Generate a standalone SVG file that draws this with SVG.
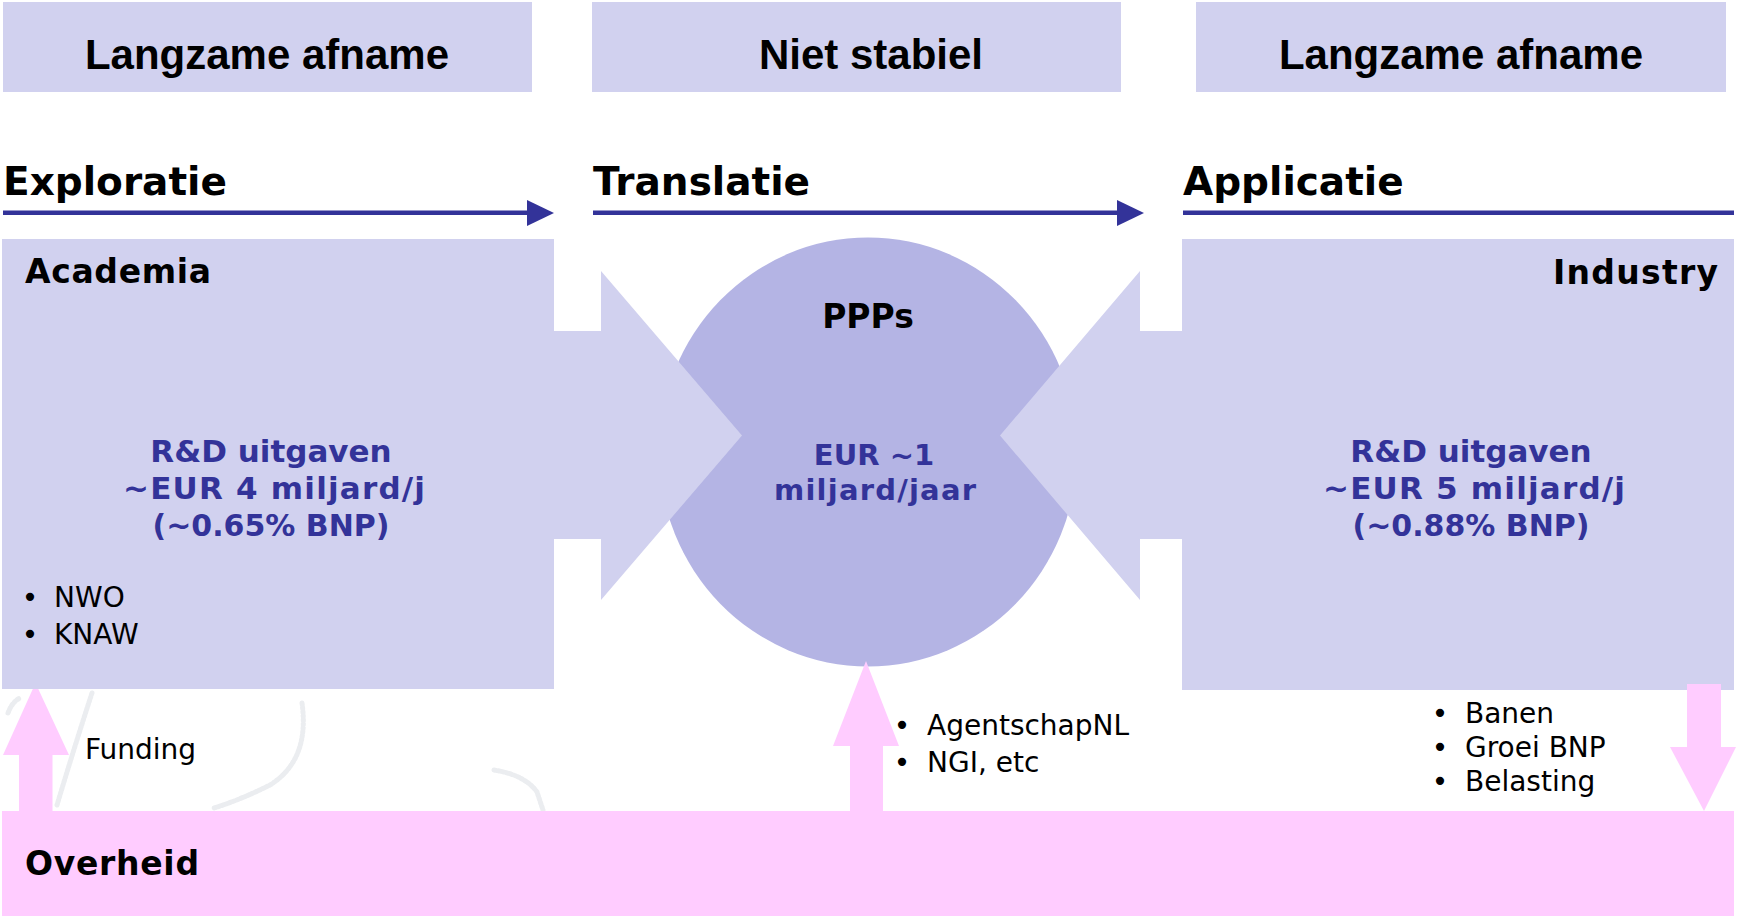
<svg xmlns="http://www.w3.org/2000/svg" width="1737" height="916" viewBox="0 0 1737 916">
<style>
.lav{fill:#D1D1EF}
.pink{fill:#FFCCFF}
.ttl{font-family:"Liberation Sans",Arial,sans-serif;font-weight:bold;font-size:42px;fill:#000;text-anchor:middle}
.sec{font-family:"DejaVu Sans",Verdana,sans-serif;font-weight:bold;font-size:39px;fill:#000}
.hd{font-family:"DejaVu Sans",Verdana,sans-serif;font-weight:bold;font-size:33px;fill:#000}
.blue{font-family:"DejaVu Sans",Verdana,sans-serif;font-weight:bold;font-size:31px;fill:#333399;text-anchor:middle}
.txt{font-family:"DejaVu Sans",Verdana,sans-serif;font-size:28px;fill:#000}
.bul{font-family:"DejaVu Sans",Verdana,sans-serif;font-size:28px;fill:#000;text-anchor:middle}
.wm{fill:none;stroke:#EBEDF0;stroke-width:5;stroke-dasharray:2 2;stroke-linecap:round}
.navy{fill:#333399}
</style>
<rect width="1737" height="916" fill="#FFFFFF"/>
<g id="watermark">
<path class="wm" d="M8,713 Q12,702 20,698"/>
<path class="wm" d="M92,693 Q75,745 57,805"/>
<path class="wm" d="M302,703 Q310,760 270,785 Q240,800 214,808"/>
<path class="wm" d="M494,770 Q525,775 537,792 L543,810"/>
</g>
<g id="phase-titles">
<rect class="lav" x="3" y="2" width="529" height="90"/>
<text class="ttl" x="267" y="69">Langzame afname</text>
<rect class="lav" x="592" y="2" width="529" height="90"/>
<text class="ttl" x="871" y="69">Niet stabiel</text>
<rect class="lav" x="1196" y="2" width="530" height="90"/>
<text class="ttl" x="1461" y="69">Langzame afname</text>
</g>
<g id="stage-labels">
<text class="sec" x="3" y="195">Exploratie</text>
<text class="sec" x="593" y="195">Translatie</text>
<text class="sec" x="1183" y="195">Applicatie</text>
</g>
<g id="ppps">
<ellipse cx="868" cy="452" rx="209" ry="214.5" fill="#B4B4E4"/>
</g>
<g id="connectors">
<rect class="navy" x="3" y="210.5" width="526" height="4.5"/>
<polygon class="navy" points="527,200 554,213 527,226"/>
<rect class="navy" x="593" y="210.5" width="526" height="4.5"/>
<polygon class="navy" points="1117,200 1144,213 1117,226"/>
<rect class="navy" x="1183" y="210.5" width="551" height="4.5"/>
<polygon class="lav" points="553,331 601,331 601,271 742,435.5 601,600 601,539 553,539"/>
<polygon class="lav" points="1183,331 1140,331 1140,271 1000,435.5 1140,600 1140,539 1183,539"/>
<polygon class="pink" points="19,812 19,755 3,755 35.5,683 69,755 52.5,755 52.5,812"/>
<polygon class="pink" points="850,812 850,746 833,746 866,661 899,746 883,746 883,812"/>
</g>
<g id="academia">
<rect class="lav" x="2" y="239" width="552" height="450"/>
<text class="hd" x="25" y="283" textLength="186">Academia</text>
<text class="blue" x="271" y="462">R&amp;D uitgaven</text>
<text class="blue" x="274" y="499" textLength="302">~EUR 4 miljard/j</text>
<text class="blue" x="271" y="536" style="font-size:30px">(~0.65% BNP)</text>
<text class="bul" x="30" y="607">•</text>
<text class="txt" x="54" y="607">NWO</text>
<text class="bul" x="30" y="643.5">•</text>
<text class="txt" x="54" y="643.5">KNAW</text>
</g>
<g id="ppps-text">
<text class="hd" x="868" y="328" text-anchor="middle">PPPs</text>
<text class="blue" x="874" y="465" style="font-size:29px">EUR ~1</text>
<text class="blue" x="875" y="500" style="font-size:29px" textLength="202">miljard/jaar</text>
</g>
<g id="industry">
<rect class="lav" x="1182" y="239" width="552" height="451"/>
<text class="hd" x="1718" y="284" text-anchor="end" textLength="165">Industry</text>
<text class="blue" x="1471" y="462">R&amp;D uitgaven</text>
<text class="blue" x="1474" y="499" textLength="302">~EUR 5 miljard/j</text>
<text class="blue" x="1471" y="536" style="font-size:30px">(~0.88% BNP)</text>
</g>
<g id="industry-down-arrow">
<polygon class="pink" points="1687,684 1721,684 1721,747 1736,747 1704,811 1670,747 1687,747"/>
</g>
<g id="overheid">
<rect class="pink" x="2" y="811" width="1732" height="105"/>
<text class="hd" x="25" y="875" textLength="174">Overheid</text>
</g>
<g id="funding-label">
<text class="txt" x="85" y="759">Funding</text>
</g>
<g id="ppp-funding">
<text class="bul" x="902" y="735">•</text>
<text class="txt" x="927" y="735">AgentschapNL</text>
<text class="bul" x="902" y="771.5">•</text>
<text class="txt" x="927" y="771.5">NGI, etc</text>
</g>
<g id="returns">
<text class="bul" x="1440" y="723">•</text>
<text class="txt" x="1465" y="723">Banen</text>
<text class="bul" x="1440" y="757">•</text>
<text class="txt" x="1465" y="757">Groei BNP</text>
<text class="bul" x="1440" y="791">•</text>
<text class="txt" x="1465" y="791">Belasting</text>
</g>
</svg>
